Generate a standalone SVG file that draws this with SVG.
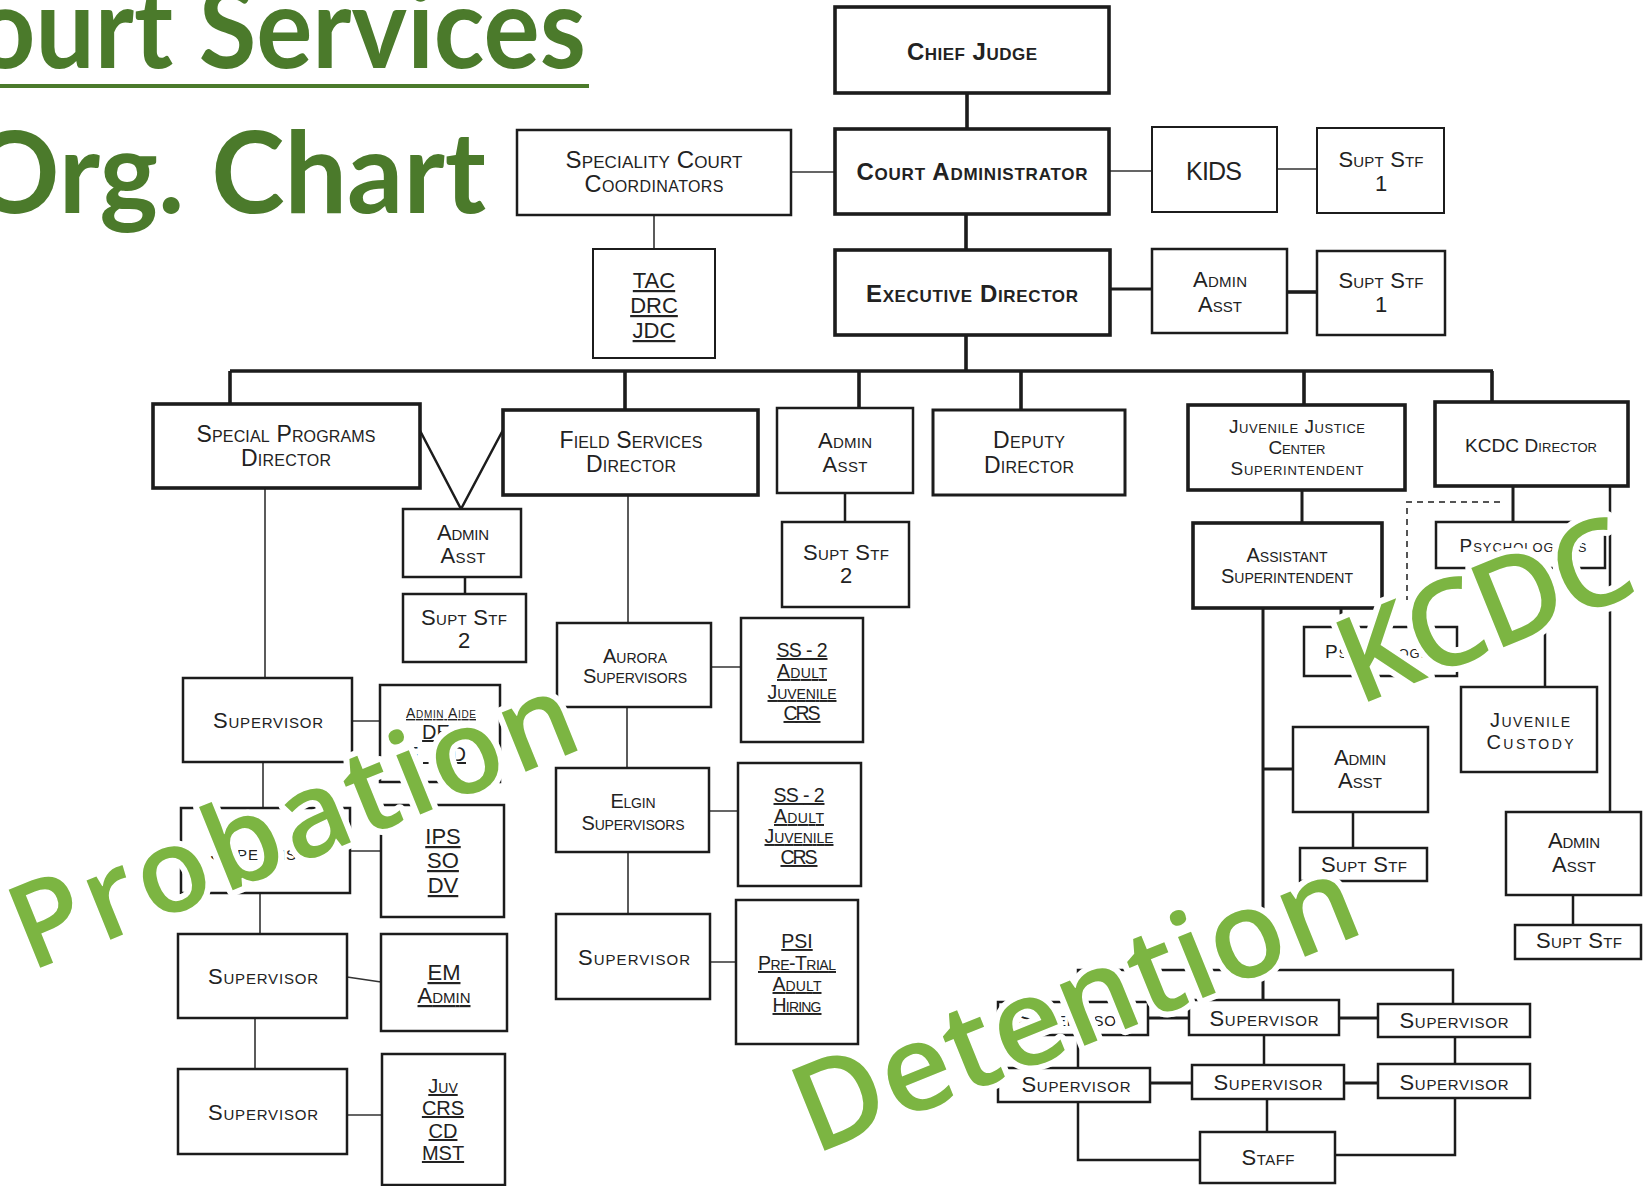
<svg xmlns="http://www.w3.org/2000/svg" width="1643" height="1186" viewBox="0 0 1643 1186">
<style>
.b{fill:#fff;stroke:#1c1c1c;stroke-width:2.5}
.k{stroke-width:3.6}
.t{font-family:"Liberation Sans",Arial,sans-serif;font-variant:small-caps;text-anchor:middle;fill:#222;font-size:22px}
.bold{font-weight:bold;font-size:24px}
.u{text-decoration:underline}
.c{stroke:#1c1c1c;fill:none;stroke-width:2.5}
.th{stroke:#333;stroke-width:1.6}
.ck{stroke-width:3.6}
.title{font-family:Lato,"Open Sans",sans-serif;font-weight:700;font-size:113px;fill:#4b7a2b}
.wm{font-family:"Open Sans",sans-serif;font-weight:600;fill:#7cb542;stroke:#fff;stroke-width:12;paint-order:stroke;stroke-linejoin:round}
</style>
<rect width="1643" height="1186" fill="#fff"/>
<text class="title" x="-25" y="68" textLength="611" lengthAdjust="spacingAndGlyphs">ourt Services</text>
<rect x="0" y="84" width="589" height="4" fill="#4b7a2b"/>
<text class="title" x="-30" y="213" textLength="516" lengthAdjust="spacingAndGlyphs">Org. Chart</text>

<g id="connectors">
<path class="c ck" d="M967 93V129M966 214V250M966 335V371M230 371H1493M230 371V404M625 371V410M859 371V408M1021 371V410M1304 371V405M1492 371V402"/>
<path class="c th" d="M791 172H835M654 215V249M1109 171H1152M1277 169H1317"/>
<path class="c" d="M1110 289H1152" style="stroke-width:3"/>
<path class="c ck" d="M1287 292H1317"/>
<path class="c" d="M416 423L461 509L503 430"/>
<path class="c" d="M465 577V594M845 493V522"/>
<path class="c th" d="M265 488V678M352 721H380M263 762V808M350 851H381M260 893V934M347 977L381 982M255 1018V1069M347 1115H382"/>
<path class="c th" d="M628 495V623M711 667H741M627 707V768M709 811H738M628 852V914M710 962H736"/>
<path class="c" d="M1302 490V523M1513 486V522M1341 608V627" style="stroke-width:3"/>
<path class="c" d="M1500 502H1407V600" style="stroke:#555;stroke-width:2;stroke-dasharray:6 5"/>
<path class="c" d="M1545 568V687M1610 486V812M1573 895V925M1353 812V848"/>
<path class="c" d="M1263 608V1000M1263 769H1293" style="stroke-width:3"/>
<path class="c" d="M1078 1002V970H1453V1004M1078 1035V1068M1455 1037V1064M1264 1035V1065M1267 1099V1132M1078 1102V1160H1200M1455 1098V1155H1335"/>
<path class="c" d="M1148 1018H1189M1339 1018H1378M1150 1083H1192M1344 1083H1378" style="stroke-width:3"/>
</g>

<g id="chief-judge"><rect class="b k" x="835" y="7" width="274" height="86"/><text class="t bold" x="972" y="60" textLength="130">Chief Judge</text></g>
<g id="court-administrator"><rect class="b k" x="835" y="129" width="274" height="85"/><text class="t bold" x="972" y="180" textLength="231">Court Administrator</text></g>
<g id="executive-director"><rect class="b k" x="835" y="250" width="275" height="85"/><text class="t bold" x="972" y="302" textLength="212">Executive Director</text></g>
<g id="speciality-court"><rect class="b" x="517" y="130" width="274" height="85"/><text class="t" x="654" y="168" style="font-size:24px" textLength="177">Speciality Court</text><text class="t" x="654" y="192" style="font-size:23.5px" textLength="139">Coordinators</text></g>
<g id="tac-drc-jdc"><rect class="b" x="593" y="249" width="122" height="109" style="stroke-width:2"/><text class="t u" x="654" y="288">TAC</text><text class="t u" x="654" y="313">DRC</text><text class="t u" x="654" y="338">JDC</text></g>
<g id="kids"><rect class="b" x="1152" y="127" width="125" height="85" style="stroke-width:2"/><text class="t" x="1214" y="180" style="font-size:25px" textLength="56">KIDS</text></g>
<g id="supt-stf-1a"><rect class="b" x="1317" y="128" width="127" height="85" style="stroke-width:2"/><text class="t" x="1381" y="167" textLength="85">Supt Stf</text><text class="t" x="1381" y="191">1</text></g>
<g id="admin-asst-exec"><rect class="b" x="1152" y="249" width="135" height="84"/><text class="t" x="1220" y="287" textLength="54">Admin</text><text class="t" x="1220" y="312" textLength="44">Asst</text></g>
<g id="supt-stf-1b"><rect class="b" x="1317" y="251" width="128" height="84"/><text class="t" x="1381" y="288" textLength="85">Supt Stf</text><text class="t" x="1381" y="312">1</text></g>

<g id="special-programs-director"><rect class="b k" x="153" y="404" width="267" height="84"/><text class="t" x="286" y="442" style="font-size:23px" textLength="179">Special Programs</text><text class="t" x="286" y="466" style="font-size:23px" textLength="90">Director</text></g>
<g id="field-services-director"><rect class="b k" x="503" y="410" width="255" height="85"/><text class="t" x="631" y="448" style="font-size:23px" textLength="143">Field Services</text><text class="t" x="631" y="472" style="font-size:23px" textLength="90">Director</text></g>
<g id="admin-asst-row2"><rect class="b" x="777" y="408" width="136" height="85"/><text class="t" x="845" y="448" textLength="54">Admin</text><text class="t" x="845" y="472" textLength="45">Asst</text></g>
<g id="deputy-director"><rect class="b" x="933" y="410" width="192" height="85" style="stroke-width:3"/><text class="t" x="1029" y="448" style="font-size:23px" textLength="72">Deputy</text><text class="t" x="1029" y="473" style="font-size:23px" textLength="90">Director</text></g>
<g id="jjc-superintendent"><rect class="b k" x="1188" y="405" width="217" height="85"/><text class="t" x="1297" y="433" style="font-size:19px" textLength="136">Juvenile Justice</text><text class="t" x="1297" y="454" style="font-size:19px" textLength="57">Center</text><text class="t" x="1297" y="475" style="font-size:19px" textLength="133">Superintendent</text></g>
<g id="kcdc-director"><rect class="b k" x="1435" y="402" width="193" height="84"/><text class="t" x="1531" y="452" style="font-size:19px" textLength="132">KCDC Director</text></g>

<g id="admin-asst-sp"><rect class="b" x="403" y="509" width="118" height="68"/><text class="t" x="463" y="540" textLength="52">Admin</text><text class="t" x="463" y="563" textLength="45">Asst</text></g>
<g id="supt-stf-2-sp"><rect class="b" x="403" y="594" width="123" height="68"/><text class="t" x="464" y="625" textLength="86">Supt Stf</text><text class="t" x="464" y="648">2</text></g>
<g id="supt-stf-2"><rect class="b" x="782" y="522" width="127" height="85"/><text class="t" x="846" y="560" textLength="86">Supt Stf</text><text class="t" x="846" y="583">2</text></g>

<g id="supervisor-sp1"><rect class="b" x="183" y="678" width="169" height="84"/><text class="t" x="268" y="728" textLength="110">Supervisor</text></g>
<g id="admin-aide"><rect class="b" x="380" y="685" width="120" height="97"/><text class="t u" x="441" y="718" style="font-size:14px" textLength="70">Admin Aide</text><text class="t u" x="436" y="739" style="font-size:20px">DE</text><text class="t u" x="436" y="761" style="font-size:20px" textLength="60">F BD</text></g>
<g id="supervisor-sp2"><rect class="b" x="181" y="808" width="169" height="85"/><text class="t" x="265" y="860" textLength="110">Supervisor</text></g>
<g id="ips-so-dv"><rect class="b" x="381" y="805" width="123" height="112"/><text class="t u" x="443" y="844">IPS</text><text class="t u" x="443" y="868">SO</text><text class="t u" x="443" y="893">DV</text></g>
<g id="supervisor-sp3"><rect class="b" x="178" y="934" width="169" height="84"/><text class="t" x="263" y="984" textLength="110">Supervisor</text></g>
<g id="em-admin"><rect class="b" x="381" y="934" width="126" height="97"/><text class="t u" x="444" y="980">EM</text><text class="t u" x="444" y="1003" textLength="53">Admin</text></g>
<g id="supervisor-sp4"><rect class="b" x="178" y="1069" width="169" height="85"/><text class="t" x="263" y="1120" textLength="110">Supervisor</text></g>
<g id="juv-crs-cd-mst"><rect class="b" x="382" y="1054" width="123" height="131"/><text class="t u" x="443" y="1093" style="font-size:20px">Juv</text><text class="t u" x="443" y="1115" style="font-size:20px">CRS</text><text class="t u" x="443" y="1138" style="font-size:20px">CD</text><text class="t u" x="443" y="1160" style="font-size:20px">MST</text></g>

<g id="aurora-supervisors"><rect class="b" x="557" y="623" width="154" height="84"/><text class="t" x="635" y="663" style="font-size:20px" textLength="64">Aurora</text><text class="t" x="635" y="683" style="font-size:20px" textLength="104">Supervisors</text></g>
<g id="ss2-a"><rect class="b" x="741" y="618" width="122" height="124"/><text class="t u" x="802" y="657" style="font-size:19.5px" textLength="51">SS - 2</text><text class="t u" x="802" y="678" style="font-size:19.5px" textLength="50">Adult</text><text class="t u" x="802" y="699" style="font-size:19.5px" textLength="69">Juvenile</text><text class="t u" x="802" y="720" style="font-size:19.5px" textLength="37">CRS</text></g>
<g id="elgin-supervisors"><rect class="b" x="556" y="768" width="153" height="84"/><text class="t" x="633" y="808" style="font-size:20px" textLength="45">Elgin</text><text class="t" x="633" y="830" style="font-size:20px" textLength="103">Supervisors</text></g>
<g id="ss2-b"><rect class="b" x="738" y="763" width="123" height="123"/><text class="t u" x="799" y="802" style="font-size:19.5px" textLength="51">SS - 2</text><text class="t u" x="799" y="823" style="font-size:19.5px" textLength="50">Adult</text><text class="t u" x="799" y="843" style="font-size:19.5px" textLength="69">Juvenile</text><text class="t u" x="799" y="864" style="font-size:19.5px" textLength="37">CRS</text></g>
<g id="supervisor-field"><rect class="b" x="556" y="914" width="154" height="85"/><text class="t" x="634" y="965" textLength="112">Supervisor</text></g>
<g id="psi-box"><rect class="b" x="736" y="900" width="122" height="144"/><text class="t u" x="797" y="948" style="font-size:19.5px">PSI</text><text class="t u" x="797" y="970" style="font-size:19.5px" textLength="78">Pre-Trial</text><text class="t u" x="797" y="991" style="font-size:19.5px" textLength="49">Adult</text><text class="t u" x="797" y="1012" style="font-size:19.5px" textLength="49">Hiring</text></g>

<g id="assistant-superintendent"><rect class="b k" x="1193" y="523" width="189" height="85"/><text class="t" x="1287" y="562" style="font-size:20px" textLength="81">Assistant</text><text class="t" x="1287" y="583" style="font-size:20px" textLength="132">Superintendent</text></g>
<g id="psychologists"><rect class="b" x="1436" y="522" width="169" height="46"/><text class="t" x="1523" y="552" style="font-size:19px" textLength="127">Psychologists</text></g>
<g id="psychologist"><rect class="b" x="1304" y="627" width="153" height="49"/><text class="t" x="1384" y="658" style="font-size:19px" textLength="118">Psychologist</text></g>
<g id="juvenile-custody"><rect class="b" x="1461" y="687" width="136" height="85"/><text class="t" x="1530" y="727" style="font-size:20px" textLength="80">Juvenile</text><text class="t" x="1530" y="749" style="font-size:20px" textLength="87">Custody</text></g>
<g id="admin-asst-det"><rect class="b" x="1293" y="727" width="135" height="85"/><text class="t" x="1360" y="765" textLength="52">Admin</text><text class="t" x="1360" y="788" textLength="44">Asst</text></g>
<g id="supt-stf-det"><rect class="b" x="1300" y="848" width="127" height="33"/><text class="t" x="1364" y="872" textLength="86">Supt Stf</text></g>
<g id="admin-asst-kcdc"><rect class="b" x="1506" y="812" width="135" height="83"/><text class="t" x="1574" y="848" textLength="52">Admin</text><text class="t" x="1574" y="872" textLength="44">Asst</text></g>
<g id="supt-stf-kcdc"><rect class="b" x="1515" y="925" width="126" height="34"/><text class="t" x="1579" y="948" textLength="86">Supt Stf</text></g>

<g id="det-supervisor-tl"><rect class="b" x="998" y="1002" width="150" height="33"/><text class="t" x="1073" y="1026" textLength="109">Supervisor</text></g>
<g id="det-supervisor-tc"><rect class="b" x="1189" y="1000" width="150" height="35"/><text class="t" x="1264" y="1026" textLength="109">Supervisor</text></g>
<g id="det-supervisor-tr"><rect class="b" x="1378" y="1004" width="152" height="33"/><text class="t" x="1454" y="1028" textLength="109">Supervisor</text></g>
<g id="det-supervisor-bl"><rect class="b" x="998" y="1068" width="152" height="34"/><text class="t" x="1076" y="1092" textLength="109">Supervisor</text></g>
<g id="det-supervisor-bc"><rect class="b" x="1192" y="1065" width="152" height="34"/><text class="t" x="1268" y="1090" textLength="109">Supervisor</text></g>
<g id="det-supervisor-br"><rect class="b" x="1378" y="1064" width="152" height="34"/><text class="t" x="1454" y="1090" textLength="109">Supervisor</text></g>
<g id="staff"><rect class="b" x="1200" y="1132" width="135" height="51"/><text class="t" x="1268" y="1165" textLength="53">Staff</text></g>

<text class="wm" x="30" y="972" font-size="118" textLength="600" transform="rotate(-22 30 972)">Probation</text>
<text class="wm" x="814" y="1155" font-size="122" textLength="597" transform="rotate(-22 814 1155)">Detention</text>
<text class="wm" x="1358" y="706" font-size="120" textLength="306" transform="rotate(-22 1358 706)">KCDC</text>
</svg>
